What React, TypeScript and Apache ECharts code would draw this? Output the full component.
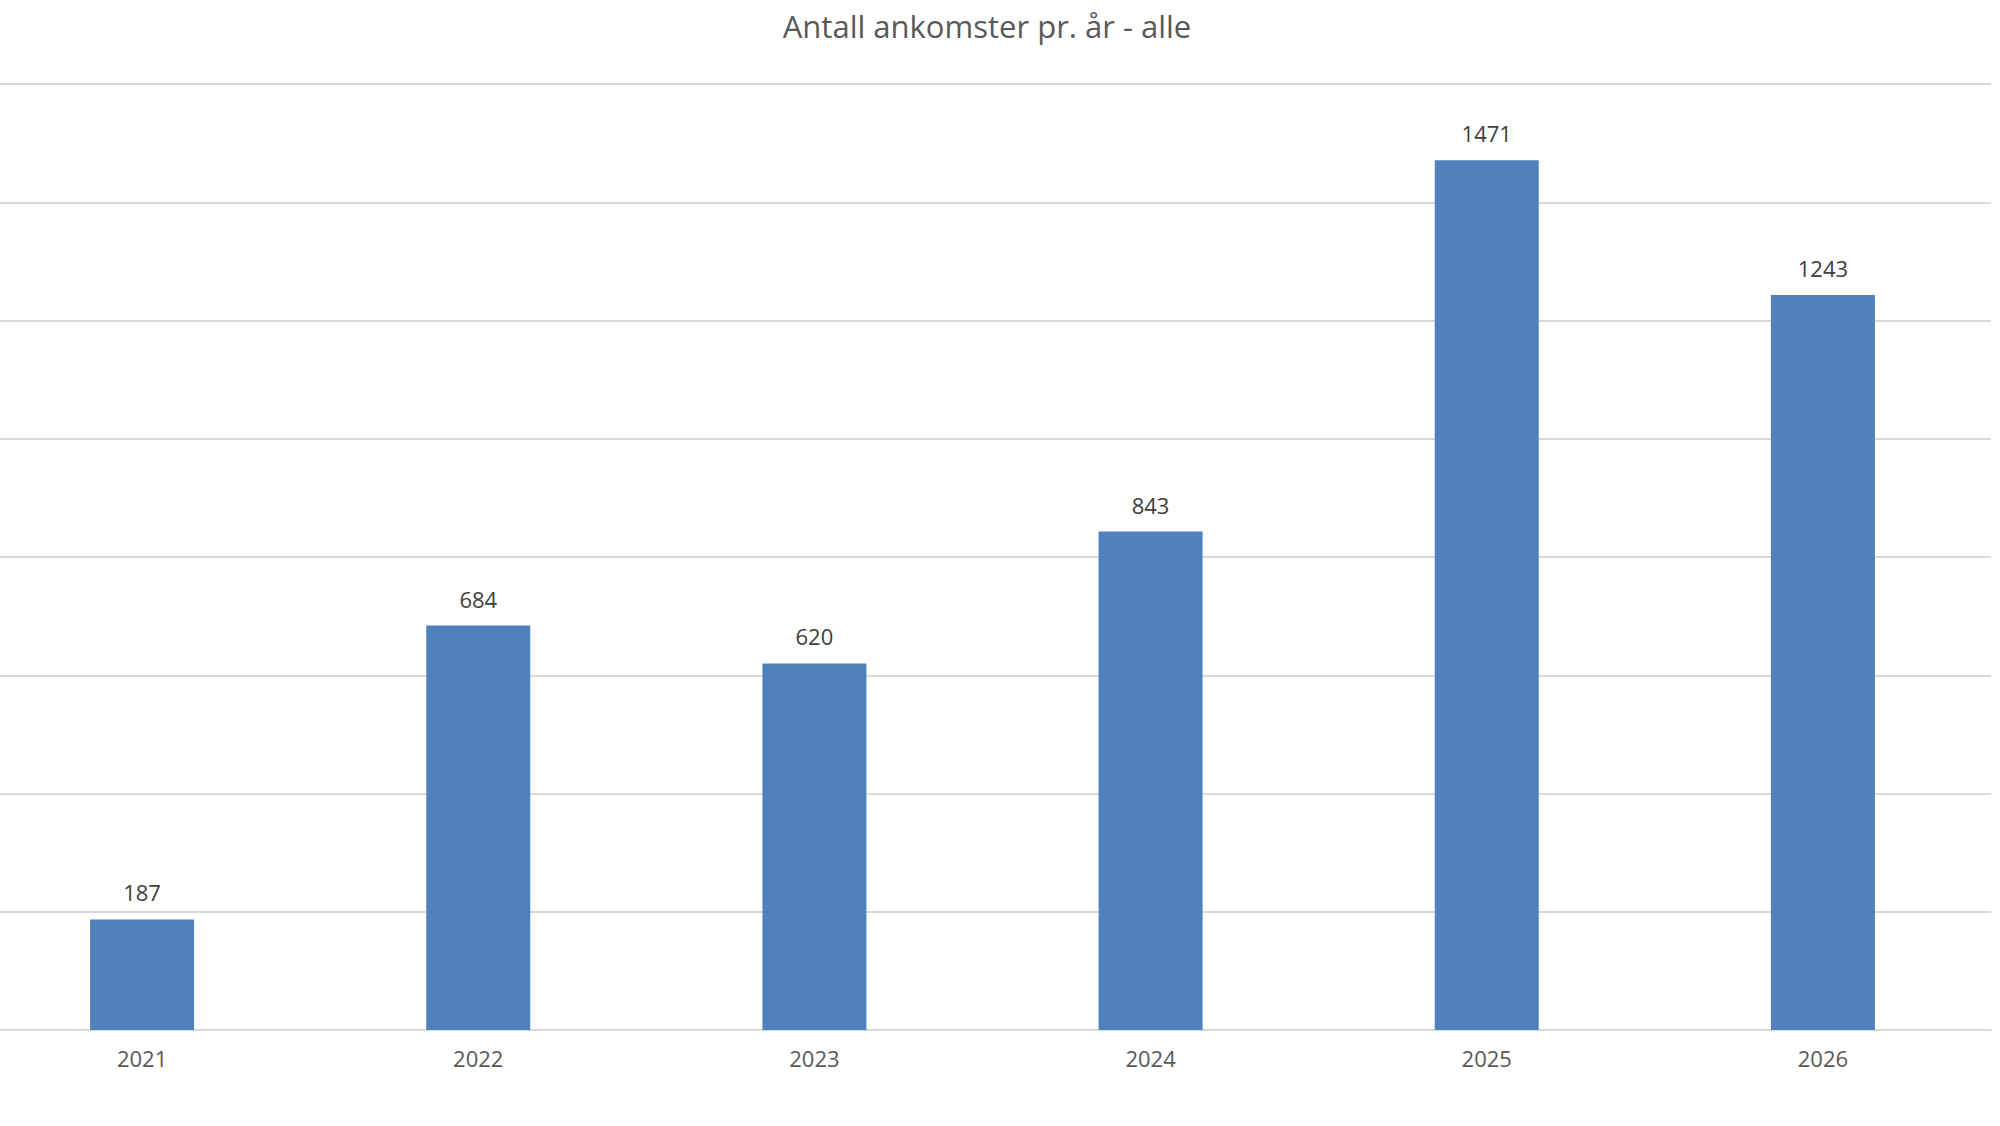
import React, { useEffect, useRef } from 'react';
import * as echarts from 'echarts';

const years = ['2021', '2022', '2023', '2024', '2025', '2026'];
const arrivals = [187, 684, 620, 843, 1471, 1243];

// The reference plot area starts a little left of the visible frame,
// so the chart div is shifted left by this amount.
const LEFT_OFFSET = 26;

const App: React.FC = () => {
  const chartRef = useRef<HTMLDivElement>(null);

  useEffect(() => {
    if (!chartRef.current) return;
    const chart = echarts.init(chartRef.current, undefined, { renderer: 'svg' });

    const font = '"Open Sans", "Noto Sans", sans-serif';

    const option: echarts.EChartsOption = {
      animation: false,
      backgroundColor: '#fff',
      title: {
        text: 'Antall ankomster pr. år - alle',
        left: 'center',
        top: 5,
        textStyle: {
          color: '#595959',
          fontSize: 31,
          fontWeight: 'normal',
          fontFamily: font,
        },
      },
      grid: {
        left: 0,
        right: 9,
        top: 84,
        bottom: 96,
      },
      xAxis: {
        type: 'category',
        data: years,
        axisTick: { show: false },
        axisLine: { show: true, lineStyle: { color: '#d9d9d9', width: 2 } },
        axisLabel: {
          margin: 17,
          color: '#595959',
          fontSize: 22,
          fontFamily: font,
        },
      },
      yAxis: {
        type: 'value',
        min: 0,
        max: 1600,
        interval: 200,
        axisLabel: { show: false },
        axisLine: { show: false },
        axisTick: { show: false },
        splitLine: {
          show: true,
          lineStyle: { color: '#d9d9d9', width: 2 },
        },
      },
      series: [
        {
          type: 'bar',
          data: arrivals,
          barWidth: 104,
          itemStyle: { color: '#4F81BD' },
          label: {
            show: true,
            position: 'top',
            distance: 16,
            color: '#404040',
            fontSize: 22,
            fontFamily: font,
          },
        },
      ],
    };

    chart.setOption(option);

    const handleResize = () => chart.resize();
    window.addEventListener('resize', handleResize);
    return () => {
      window.removeEventListener('resize', handleResize);
      chart.dispose();
    };
  }, []);

  return (
    <div
      ref={chartRef}
      style={{
        position: 'fixed',
        left: -LEFT_OFFSET,
        top: 0,
        width: `calc(100vw + ${LEFT_OFFSET}px)`,
        height: '100vh',
      }}
    />
  );
};

export default App;
